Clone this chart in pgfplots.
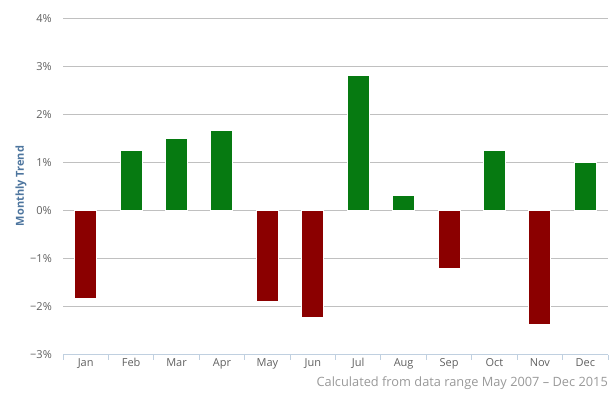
\documentclass[border=0pt]{standalone}
\usepackage{pgfplots}
\pgfplotsset{compat=1.18}
\usepackage{fontspec}
\setmainfont{Open Sans}
\definecolor{posc}{HTML}{067A11}
\definecolor{negc}{HTML}{8B0000}
\definecolor{gridc}{HTML}{C0C0C0}
\definecolor{axisc}{HTML}{C0D0E0}
\definecolor{labc}{HTML}{606060}
\definecolor{titc}{HTML}{4D759E}
\definecolor{credc}{HTML}{999999}
\begin{document}
\begin{tikzpicture}[x=1pt,y=1pt]
\useasboundingbox (-63,-39.5) rectangle (553,354.5);
\begin{axis}[
  at={(0,0)}, anchor=south west,
  scale only axis, width=545pt, height=336pt,
  xmin=-0.5, xmax=11.5, ymin=-3, ymax=4,
  axis x line*=bottom, axis y line*=left,
  x axis line style={axisc, line width=1pt, -},
  y axis line style={draw=none},
  xtick={-0.5,0.5,...,11.5}, xticklabels={},
  extra x ticks={0,...,11},
  extra x tick labels={Jan,Feb,Mar,Apr,May,Jun,Jul,Aug,Sep,Oct,Nov,Dec},
  extra x tick style={major tick length=0pt, tick style={draw=none}},
  xtick style={axisc, line width=1pt},
  ytick style={draw=none},
  major tick length=5pt,
  tick align=outside,
  x tick label style={font=\fontsize{11}{12}\selectfont, text=labc, text height=8pt, text depth=2pt, inner sep=0pt, yshift=-4pt},
  ytick={-3,...,4},
  yticklabels={−3\%,−2\%,−1\%,0\%,1\%,2\%,3\%,4\%},
  ymajorgrids, grid style={gridc, line width=1pt},
  y tick label style={font=\fontsize{11}{12}\selectfont, text=labc, inner sep=0pt, xshift=-6pt},
  ybar, bar width=22pt,
  every axis plot/.append style={draw=white, line width=1pt, bar shift=0pt},
  clip=false,
]
\addplot[fill=posc, draw=white] coordinates {(1,1.24) (2,1.49) (3,1.66) (6,2.81) (7,0.32) (9,1.24) (11,1.01)};
\addplot[fill=negc, draw=white] coordinates {(0,-1.83) (4,-1.89) (5,-2.23) (8,-1.21) (10,-2.38)};
\end{axis}
\node[rotate=90, font=\bfseries\fontsize{11}{13}\selectfont, text=titc] at (-42,168.5) {Monthly Trend};
\node[anchor=east, font=\fontsize{12.8}{14}\selectfont, text=credc, inner sep=0pt] at (545,-29) {Calculated from data range May 2007 – Dec 2015};
\end{tikzpicture}
\end{document}
